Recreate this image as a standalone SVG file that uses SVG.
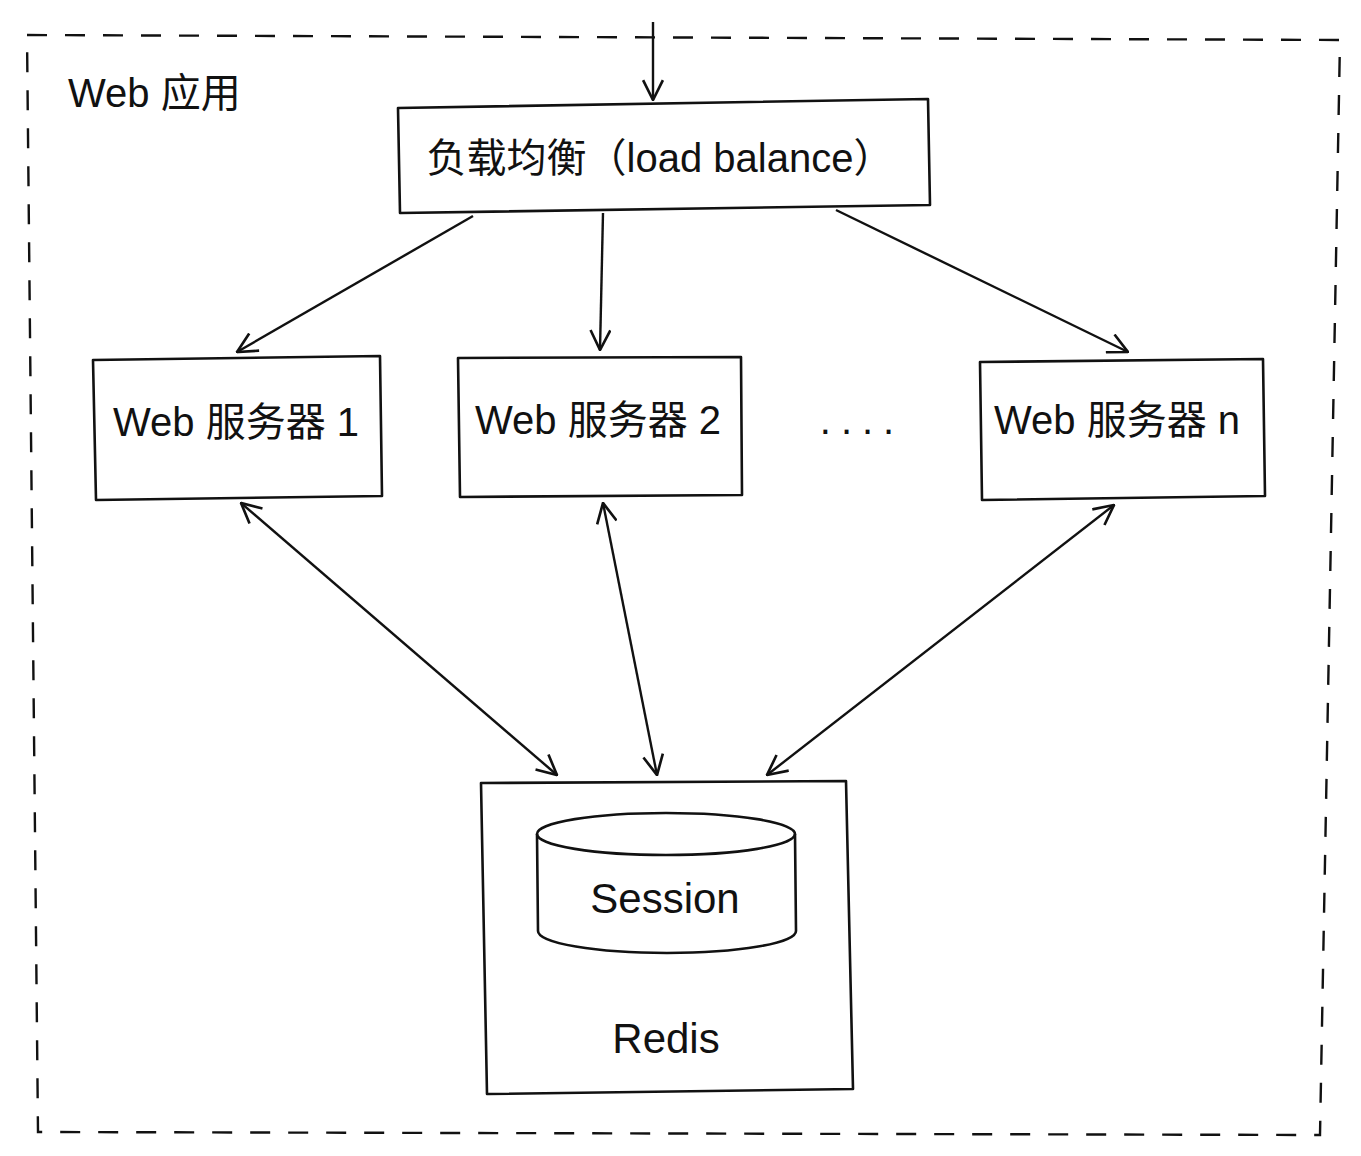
<svg xmlns="http://www.w3.org/2000/svg" width="1361" height="1156" viewBox="0 0 1361 1156">
<style>
.box{fill:none;stroke:#111;stroke-width:2.6;stroke-linejoin:round}
.ln{fill:none;stroke:#111;stroke-width:2.4}
.t{font-family:"Liberation Sans","Noto Sans CJK SC",sans-serif;fill:#111}
</style>
<defs>
<marker id="ah" viewBox="0 0 20 20" refX="19" refY="10" markerWidth="22" markerHeight="22" markerUnits="userSpaceOnUse" orient="auto-start-reverse">
<path d="M1,1 L19,10 L1,19" fill="none" stroke="#111" stroke-width="2.4"/>
</marker>
</defs>
<rect width="1361" height="1156" fill="#fff"/>
<g id="web-app">
<path d="M27,35 L1340,40 L1320,1135 L38,1132 Z" fill="none" stroke="#111" stroke-width="2.4" stroke-dasharray="20,18"/>
<text class="t" x="68" y="107" font-size="40">Web 应用</text>
</g>
<g id="connectors">
<line class="ln" x1="653" y1="22" x2="653" y2="100" marker-end="url(#ah)"/>
<line class="ln" x1="473" y1="216" x2="237" y2="352" marker-end="url(#ah)"/>
<line class="ln" x1="603" y1="213" x2="600" y2="350" marker-end="url(#ah)"/>
<line class="ln" x1="836" y1="210" x2="1128" y2="352" marker-end="url(#ah)"/>
<line class="ln" x1="241" y1="503" x2="557" y2="775" marker-start="url(#ah)" marker-end="url(#ah)"/>
<line class="ln" x1="603" y1="503" x2="657" y2="775" marker-start="url(#ah)" marker-end="url(#ah)"/>
<line class="ln" x1="1114" y1="505" x2="767" y2="775" marker-start="url(#ah)" marker-end="url(#ah)"/>
</g>
<g id="load-balance">
<path class="box" d="M398,108 L928,99 L930,205 L400,213 Z"/>
<text class="t" x="660" y="172" font-size="40" text-anchor="middle">负载均衡（load balance）</text>
</g>
<g id="web-server-1">
<path class="box" d="M93,360 L380,356 L382,496 L96,500 Z"/>
<text class="t" x="236" y="436" font-size="40" text-anchor="middle">Web 服务器 1</text>
</g>
<g id="web-server-2">
<path class="box" d="M458,358 L741,357 L742,495 L460,497 Z"/>
<text class="t" x="598" y="434" font-size="40" text-anchor="middle">Web 服务器 2</text>
</g>
<g id="ellipsis">
<text class="t" x="862" y="434" font-size="40" text-anchor="middle" letter-spacing="10">....</text>
</g>
<g id="web-server-n">
<path class="box" d="M980,362 L1263,359 L1265,496 L982,500 Z"/>
<text class="t" x="1117" y="434" font-size="40" text-anchor="middle">Web 服务器 n</text>
</g>
<g id="redis">
<path class="box" d="M481,783 L846,781 L853,1089 L487,1094 Z"/>
<text class="t" x="666" y="1053" font-size="42" text-anchor="middle">Redis</text>
</g>
<g id="session">
<path class="box" d="M537,834 L538,931 A129,22 0 0 0 796,931 L795,834" fill="#fff"/>
<ellipse class="box" cx="666" cy="834" rx="129" ry="21"/>
<text class="t" x="665" y="913" font-size="42" text-anchor="middle">Session</text>
</g>
</svg>
